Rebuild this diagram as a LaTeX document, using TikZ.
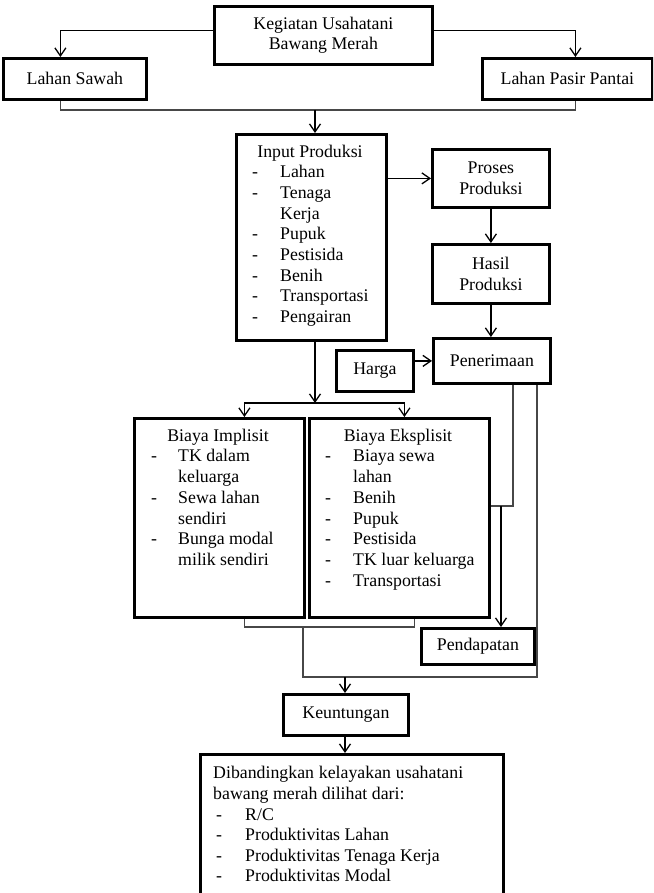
\documentclass[tikz,border=0pt]{standalone}
\usepackage{fontspec}
\setmainfont{Liberation Serif}
\usetikzlibrary{arrows.meta,calc}
\begin{document}
\begin{tikzpicture}[x=1pt,y=-1pt,
  every node/.style={font=\fontsize{17.8}{20.6}\selectfont},
  box/.style={draw, line width=2.8pt, inner sep=0pt, anchor=north west, align=center},
  txt/.style={inner sep=0pt},
  conn/.style={draw=black!72, line width=1.3pt},
  arr/.style={draw=black, line width=1.3pt, -{Straight Barb[length=8pt,width=11pt,line width=1.3pt]}}]
\useasboundingbox (0,0) rectangle (653,893);
\clip (0,0) rectangle (653,893);
\fill[white] (0,0) rectangle (653,893);
% boxes
\node[box, minimum width=218pt, minimum height=58pt] (keg) at (213,5) {Kegiatan Usahatani\\Bawang Merah};
\node[box, minimum width=143pt, minimum height=41pt] (sawah) at (2,57) {Lahan Sawah};
\node[box, minimum width=170pt, minimum height=41pt] (pasir) at (481,57) {Lahan Pasir Pantai};
\node[box, minimum width=150pt, minimum height=206pt] (input) at (235,133) {};
\node[box, minimum width=117pt, minimum height=58pt] (proses) at (431,148) {Proses\\Produksi};
\node[box, minimum width=117pt, minimum height=59pt] (hasil) at (431,243) {Hasil\\Produksi};
\node[box, minimum width=117pt, minimum height=45pt] (pen) at (432,337) {Penerimaan};
\node[box, minimum width=77pt, minimum height=41pt] (harga) at (335,349) {Harga};
\node[box, minimum width=170pt, minimum height=199pt] (impl) at (133,417) {};
\node[box, minimum width=180pt, minimum height=199pt] (eks) at (308,417) {};
\node[box, minimum width=113pt, minimum height=36pt] (pend) at (420,627) {Pendapatan};
\node[box, minimum width=125pt, minimum height=41pt] (keu) at (282,693) {Keuntungan};
\node[box, minimum width=303pt, minimum height=160pt] (dib) at (199,753) {};
% Input Produksi text
\node[txt, anchor=base] (inT) at (310,158) {Input Produksi};
\foreach \t/\y [count=\i] in {Lahan/178, Tenaga/198.6, Pupuk/239.8, Pestisida/260.4, Benih/281, Transportasi/301.6, Pengairan/322.2}{
  \node[txt, anchor=base] (ind\i) at (255,\y) {-};
  \node[txt, anchor=base west] (in\i) at (280,\y) {\t};
}
\node[txt, anchor=base west] (inK) at (280,219.2) {Kerja};
% Biaya Implisit
\node[txt, anchor=base] (imT) at (218,441) {Biaya Implisit};
\foreach \t/\y [count=\i] in {TK dalam/461, Sewa lahan/503, Bunga modal/544}{
  \node[txt, anchor=base] (imd\i) at (154,\y) {-};
  \node[txt, anchor=base west] (im\i) at (178,\y) {\t};
}
\node[txt, anchor=base west] (imA) at (178,482) {keluarga};
\node[txt, anchor=base west] (imB) at (178,524) {sendiri};
\node[txt, anchor=base west] (imC) at (178,565) {milik sendiri};
% Biaya Eksplisit
\node[txt, anchor=base] (ekT) at (398,441) {Biaya Eksplisit};
\foreach \t/\y [count=\i] in {Biaya sewa/461, Benih/503, Pupuk/524, Pestisida/544, TK luar keluarga/565, Transportasi/586}{
  \node[txt, anchor=base] (ekd\i) at (328,\y) {-};
  \node[txt, anchor=base west] (ek\i) at (353,\y) {\t};
}
\node[txt, anchor=base west] (ekA) at (353,482) {lahan};
% Dibandingkan
\node[txt, anchor=base west] (dib1) at (213,778) {\makebox[250pt][s]{Dibandingkan kelayakan usahatani}};
\node[txt, anchor=base west] (dib2) at (213,799) {bawang merah dilihat dari:};
\foreach \t/\y [count=\i] in {{R/C}/820, {Produktivitas Lahan}/840.6, {Produktivitas Tenaga Kerja}/861.2, {Produktivitas Modal}/881.8}{
  \node[txt, anchor=base] (dbd\i) at (219,\y) {-};
  \node[txt, anchor=base west] (db\i) at (245,\y) {\t};
}
% connectors
\draw[arr] ([yshift=5pt]keg.west) -| ([xshift=-14.5pt]sawah.north);
\draw[arr] ([yshift=5pt]keg.east) -| ([xshift=8pt]pasir.north);
\coordinate (j1) at (315,110);
\draw[conn] ([xshift=-14.5pt]sawah.south) |- (j1) -| ([xshift=8pt]pasir.south);
\draw[arr] (j1) -- (j1 |- input.north);
\draw[arr] (input.east |- proses.west) -- (proses.west);
\draw[arr] (proses.south) -- (proses.south |- hasil.north);
\draw[arr] (hasil.south) -- (hasil.south |- pen.north);
\draw[arr] (harga.east |- pen.west) -- (pen.west);
\coordinate (j2) at (315,403);
\draw[arr] (j2 |- input.south) -- (j2);
\draw[arr] (j2) -| ([xshift=25pt]impl.north);
\draw[arr] (j2) -| ([xshift=5pt]eks.north);
\coordinate (j3) at (303,627);
\draw[conn] ([xshift=25pt]impl.south) |- (j3) -| ([xshift=15pt]eks.south);
\coordinate (j5) at (537,677);
\draw[conn] (j3) |- (j5) -- (j5 |- pen.south);
\coordinate (j4) at (345,677);
\draw[arr] (j4) -- (j4 |- keu.north);
\coordinate (j6) at (513,506);
\draw[conn] (j6 |- pen.south) -- (j6) -- (j6 -| eks.east);
\coordinate (j7) at (501,506);
\draw[arr] (j7) -- (j7 |- pend.north);
\draw[arr] (j4 |- keu.south) -- (j4 |- dib.north);
\end{tikzpicture}
\end{document}
